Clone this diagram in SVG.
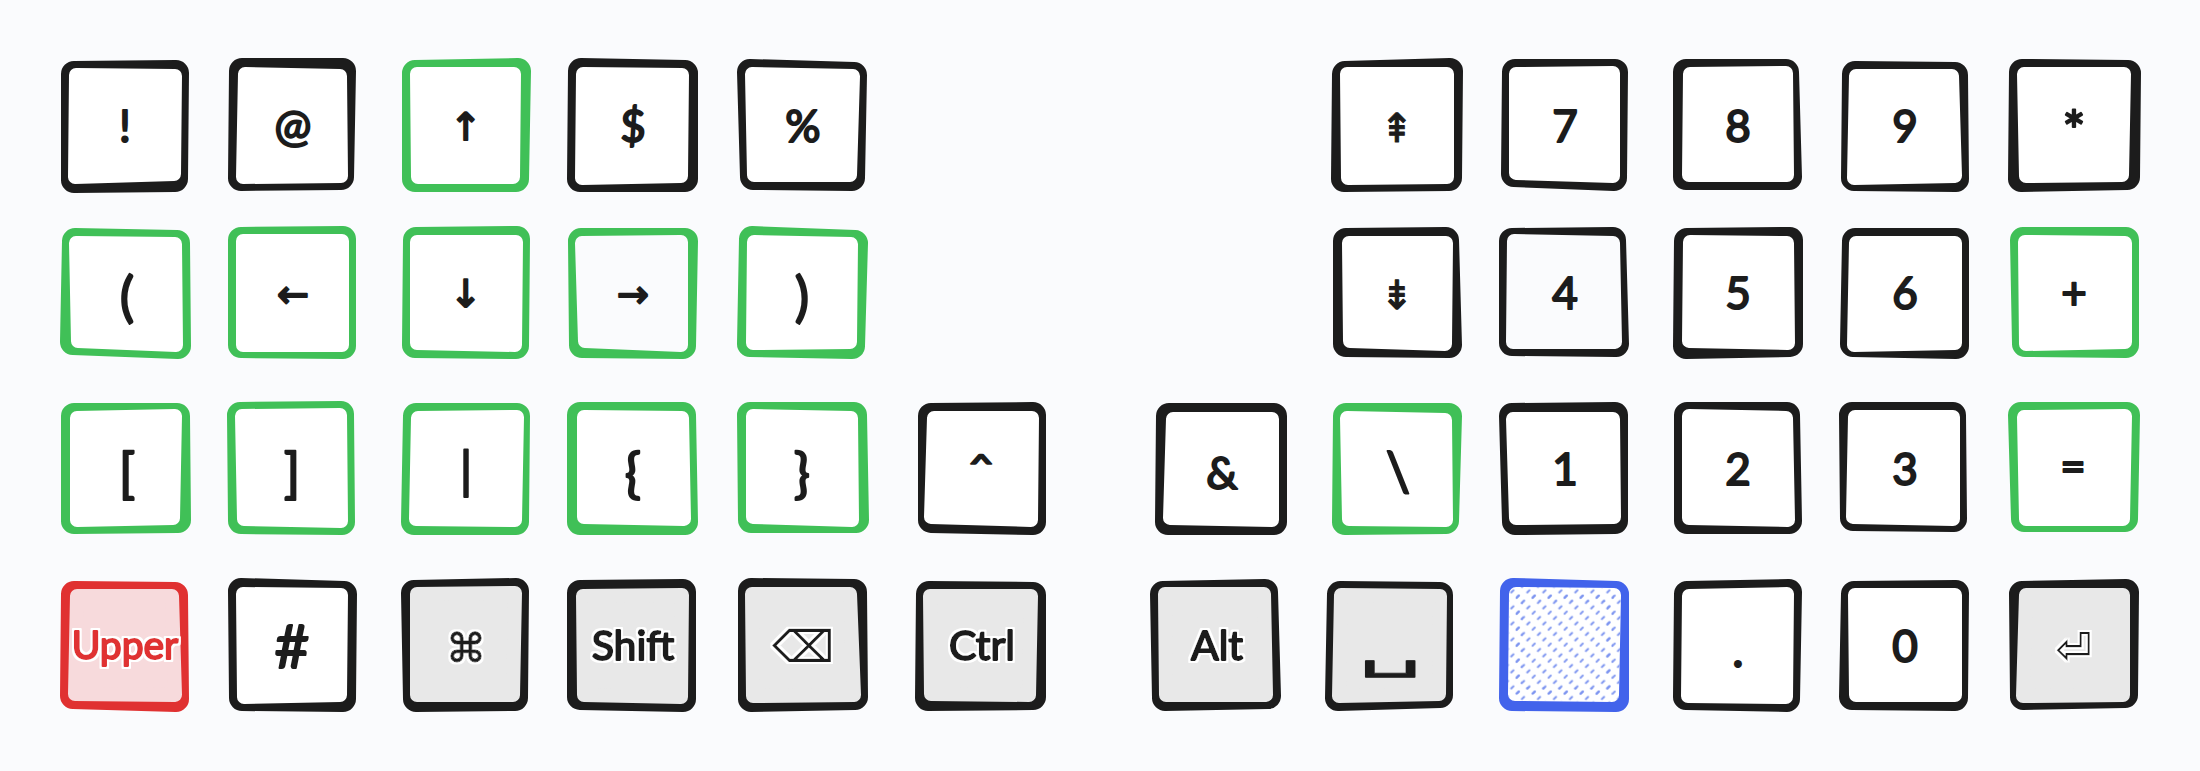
<svg xmlns="http://www.w3.org/2000/svg" width="2200" height="771" viewBox="0 0 2200 771">
<style>
.o{stroke-width:26;stroke-linejoin:round}
.k{fill:#1c1c1c;stroke:#1c1c1c}
.g{fill:#40c057;stroke:#40c057}
.r{fill:#e03131;stroke:#e03131}
.b{fill:#4263eb;stroke:#4263eb}
.i{stroke-width:14;stroke-linejoin:round}
.w{fill:#fff;stroke:#fff}
.n{fill:#fafbfd;stroke:#fafbfd}
.y{fill:#e8e8e8;stroke:#e8e8e8}
.p{fill:#f7dadc;stroke:#f7dadc}
.h{fill:url(#hatch);stroke:url(#hatch)}
text{font-family:"Lato","Noto Sans",sans-serif;font-weight:400;fill:#1c1c1c;text-anchor:middle;font-size:44px;stroke:#1c1c1c;stroke-width:2px;stroke-linejoin:round}
.t{font-size:54px}
.s{font-size:41px;filter:url(#halo)}
.u{font-size:39px;fill:#e03131;stroke:#e03131;filter:url(#halo)}
.a{font-family:"DejaVu Sans",sans-serif;font-size:38px}
.d{font-family:"DejaVu Sans",sans-serif;stroke-width:.6px;filter:url(#halo)}
</style>
<defs>
<pattern id="hatch" patternUnits="userSpaceOnUse" x="1515.67" y="594.67" width="16" height="16">
<path d="M0.9 3.1L3.1 0.9M6.2 8.4L8.4 6.2M11.6 13.8L13.8 11.6" stroke="#7d95f0" stroke-width="2" stroke-linecap="round" fill="none"/>
</pattern>
<filter id="halo" x="-20%" y="-20%" width="140%" height="140%">
<feMorphology in="SourceAlpha" operator="dilate" radius="1.6" result="d"/>
<feFlood flood-color="#fff"/>
<feComposite in2="d" operator="in"/>
<feMerge><feMergeNode/><feMergeNode in="SourceGraphic"/></feMerge>
</filter>
</defs>
<rect width="2200" height="771" fill="#fafbfd"/>

<g id="key-exclam"><polygon class="o k" points="74,74 176,73 175,179 74,180"/><polygon class="i w" points="76,75 175,76 174,174 75,177"/><text x="125" y="142">!</text></g>
<g id="key-at"><polygon class="o k" points="242,71 343,71 341,177 241,178"/><polygon class="i w" points="245,74 340,76 341,176 243,177"/><text x="293" y="142">@</text></g>
<g id="key-up"><polygon class="o g" points="415,73 518,71 516,179 415,179"/><polygon class="i w" points="417,74 514,74 513,177 418,177"/><text class="a" x="466" y="140">↑</text></g>
<g id="key-dollar"><polygon class="o k" points="581,71 685,73 685,179 580,179"/><polygon class="i w" points="583,74 682,75 681,176 582,178"/><text x="633" y="142">$</text></g>
<g id="key-percent"><polygon class="o k" points="750,72 854,75 852,178 753,177"/><polygon class="i w" points="752,74 853,76 850,175 754,175"/><text x="803" y="142">%</text></g>
<g id="key-pageup"><polygon class="o k" points="1345,74 1450,71 1449,178 1344,179"/><polygon class="i w" points="1347,74 1447,74 1447,177 1348,178"/><text class="a" style="stroke-width:1px;font-size:40px" x="1397" y="142">⇞</text></g>
<g id="key-7"><polygon class="o k" points="1515,72 1615,72 1614,178 1514,174"/><polygon class="i w" points="1516,74 1613,73 1613,176 1516,173"/><text x="1565" y="142">7</text></g>
<g id="key-8"><polygon class="o k" points="1686,72 1786,72 1789,177 1686,177"/><polygon class="i w" points="1690,74 1786,73 1787,175 1689,175"/><text x="1738" y="142">8</text></g>
<g id="key-9"><polygon class="o k" points="1855,74 1955,75 1956,179 1854,178"/><polygon class="i w" points="1856,76 1952,76 1955,176 1854,178"/><text x="1905" y="142">9</text></g>
<g id="key-star"><polygon class="o k" points="2022,72 2128,73 2127,177 2021,179"/><polygon class="i w" points="2024,74 2124,74 2122,175 2026,176"/><text class="t" x="2074" y="150">*</text></g>

<g id="key-lparen"><polygon class="o g" points="75,241 177,243 178,346 73,342"/><polygon class="i w" points="76,243 175,244 176,345 78,341"/><text class="t" x="127" y="316">(</text></g>
<g id="key-left"><polygon class="o g" points="241,240 343,239 343,346 241,345"/><polygon class="i w" points="243,241 342,241 342,345 243,345"/><text class="a" x="293" y="307">←</text></g>
<g id="key-down"><polygon class="o g" points="416,240 517,239 516,346 415,345"/><polygon class="i w" points="417,242 516,242 515,345 417,343"/><text class="a" x="466" y="307">↓</text></g>
<g id="key-right"><polygon class="o g" points="581,241 685,241 683,346 582,345"/><polygon class="i n" points="582,243 681,242 681,345 585,341"/><text class="a" x="633" y="307">→</text></g>
<g id="key-rparen"><polygon class="o g" points="752,239 855,243 852,346 750,344"/><polygon class="i w" points="754,242 851,244 850,342 753,343"/><text class="t" x="802" y="316">)</text></g>
<g id="key-pagedown"><polygon class="o k" points="1346,241 1446,240 1449,345 1346,344"/><polygon class="i w" points="1349,243 1446,243 1445,344 1350,341"/><text class="a" style="stroke-width:1px;font-size:40px" x="1397" y="309">⇟</text></g>
<g id="key-4"><polygon class="o k" points="1512,241 1613,240 1616,344 1512,343"/><polygon class="i n" points="1514,241 1613,243 1615,342 1513,342"/><text x="1565" y="309">4</text></g>
<g id="key-5"><polygon class="o k" points="1687,241 1790,240 1790,344 1686,346"/><polygon class="i w" points="1690,242 1787,243 1788,343 1689,341"/><text x="1738" y="309">5</text></g>
<g id="key-6"><polygon class="o k" points="1855,241 1956,241 1956,346 1853,344"/><polygon class="i w" points="1856,243 1955,243 1955,343 1854,345"/><text x="1905" y="309">6</text></g>
<g id="key-plus"><polygon class="o g" points="2023,240 2126,240 2126,345 2025,344"/><polygon class="i w" points="2025,242 2125,243 2125,342 2026,344"/><text x="2074" y="309">+</text></g>

<g id="key-lbracket"><polygon class="o g" points="74,416 177,416 178,520 74,521"/><polygon class="i w" points="77,418 175,416 173,518 77,520"/><text class="t" x="127" y="492">[</text></g>
<g id="key-rbracket"><polygon class="o g" points="240,415 341,414 342,522 241,521"/><polygon class="i w" points="242,416 340,415 341,521 244,519"/><text class="t" x="292" y="492">]</text></g>
<g id="key-pipe"><polygon class="o g" points="416,416 517,416 516,522 414,522"/><polygon class="i w" points="418,418 517,417 515,520 416,519"/><text x="466" y="488" style="font-size:50px">|</text></g>
<g id="key-lbrace"><polygon class="o g" points="580,415 683,415 685,522 580,522"/><polygon class="i w" points="584,417 682,418 684,519 584,517"/><text class="t" x="633" y="492">{</text></g>
<g id="key-rbrace"><polygon class="o g" points="750,415 854,415 856,520 751,520"/><polygon class="i w" points="753,416 851,418 852,520 753,517"/><text class="t" x="802" y="492">}</text></g>
<g id="key-caret"><polygon class="o k" points="931,416 1033,415 1033,522 931,520"/><polygon class="i w" points="934,418 1032,418 1031,520 931,517"/><text transform="translate(981,473) scale(1.45,.85)" style="font-size:30px">^</text></g>
<g id="key-amp"><polygon class="o k" points="1169,416 1274,416 1274,522 1168,522"/><polygon class="i w" points="1173,419 1272,419 1272,520 1170,518"/><text x="1222" y="489" style="font-size:44px">&amp;</text></g>
<g id="key-backslash"><polygon class="o g" points="1346,416 1449,416 1446,521 1345,522"/><polygon class="i w" points="1347,418 1445,420 1446,520 1349,519"/><text class="t" x="1398" y="491">\</text></g>
<g id="key-1"><polygon class="o k" points="1512,416 1615,415 1615,521 1515,522"/><polygon class="i w" points="1513,419 1613,419 1614,517 1516,518"/><text x="1565" y="485">1</text></g>
<g id="key-2"><polygon class="o k" points="1687,415 1787,415 1789,521 1687,521"/><polygon class="i w" points="1689,416 1786,418 1788,520 1689,518"/><text x="1738" y="485">2</text></g>
<g id="key-3"><polygon class="o k" points="1852,415 1953,415 1954,519 1853,518"/><polygon class="i w" points="1855,417 1953,417 1953,519 1853,517"/><text x="1905" y="485">3</text></g>
<g id="key-equals"><polygon class="o g" points="2021,415 2127,415 2125,519 2024,519"/><polygon class="i w" points="2024,417 2125,416 2123,519 2026,519"/><text x="2073" y="482">=</text></g>

<g id="key-upper"><polygon class="o r" points="74,594 175,595 176,699 73,696"/><polygon class="i p" points="77,596 172,596 175,695 75,694"/><text class="u" x="125" y="659">Upper</text></g>
<g id="key-hash"><polygon class="o k" points="241,591 344,594 343,699 242,698"/><polygon class="i w" points="243,594 341,595 340,695 244,697"/><text x="292" y="668" style="font-size:60px">#</text></g>
<g id="key-cmd"><polygon class="o k" points="414,593 516,591 515,698 416,699"/><polygon class="i y" points="417,594 515,593 513,695 417,695"/><text class="d" x="466" y="662" style="font-size:40px;stroke-width:1px">⌘</text></g>
<g id="key-shift"><polygon class="o k" points="580,593 683,592 683,699 580,697"/><polygon class="i y" points="583,596 682,595 681,697 584,695"/><text class="s" x="633" y="660">Shift</text></g>
<g id="key-backspace"><polygon class="o k" points="751,591 854,592 855,697 751,699"/><polygon class="i y" points="752,594 850,594 854,695 753,696"/><text class="d" x="803" y="662" style="font-size:44px;stroke-width:0">⌫</text></g>
<g id="key-ctrl"><polygon class="o k" points="929,594 1033,595 1033,697 928,698"/><polygon class="i y" points="930,596 1031,596 1029,695 931,694"/><text class="s" x="982" y="660">Ctrl</text></g>
<g id="key-alt"><polygon class="o k" points="1163,594 1265,592 1268,696 1165,698"/><polygon class="i y" points="1165,594 1264,594 1266,695 1166,695"/><text class="s" x="1217" y="660">Alt</text></g>
<g id="key-space"><polygon class="o k" points="1340,594 1440,595 1440,695 1338,698"/><polygon class="i y" points="1341,595 1440,596 1439,694 1339,696"/><text class="a" transform="translate(1390,666) scale(1.65,.85)" style="font-size:60px;stroke-width:1px">␣</text></g>
<g id="key-blank"><polygon class="o b" points="1513,591 1616,594 1616,699 1512,698"/><polygon class="i w" points="1516,594 1614,595 1612,695 1515,694"/><polygon class="i h" points="1516,594 1614,595 1612,695 1515,694"/></g>
<g id="key-dot"><polygon class="o k" points="1687,594 1789,592 1787,699 1686,697"/><polygon class="i w" points="1689,596 1787,594 1786,697 1688,696"/><text x="1738" y="667" style="font-size:48px">.</text></g>
<g id="key-0"><polygon class="o k" points="1854,594 1956,593 1955,698 1852,697"/><polygon class="i w" points="1855,595 1955,595 1955,695 1856,695"/><text x="1905" y="662">0</text></g>
<g id="key-enter"><polygon class="o k" points="2022,594 2126,592 2125,695 2023,697"/><polygon class="i y" points="2026,595 2123,595 2123,695 2023,696"/><text class="d" x="2074" y="664" style="font-size:44px;stroke-width:0">⏎</text></g>
</svg>
